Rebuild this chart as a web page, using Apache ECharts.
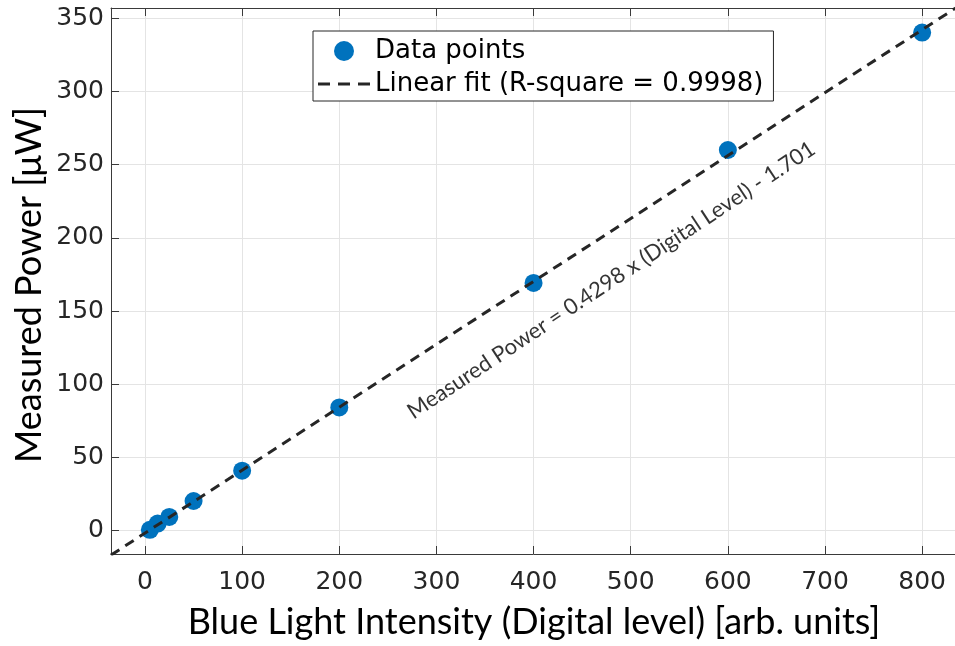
<!DOCTYPE html>
<html>
<head>
<meta charset="utf-8">
<title>Measured Power vs Blue Light Intensity</title>
<script src="https://cdn.jsdelivr.net/npm/echarts@6/dist/echarts.min.js"></script>
<style>
  html, body { margin: 0; padding: 0; background: #ffffff; }
  #chart { width: 955px; height: 646px; }
</style>
</head>
<body>
<div id="chart"></div>
<script>
// Measured samples: digital level of the blue channel and the optical power read at each level
const digitalLevels = [5, 13, 25, 50, 100, 200, 400, 600, 800];
const measuredPower = [0.5, 4.8, 9.3, 20.2, 40.9, 84.1, 169.2, 260.0, 340.2];

// Linear fit coefficients and goodness of fit
const fitSlope = 0.4298;
const fitIntercept = -1.701;
const fitRSquare = 0.9998;

// Axis ranges and tick values
const xRange = [-35, 840];
const yRange = [-16, 357];
const xTicks = [0, 100, 200, 300, 400, 500, 600, 700, 800];
const yTicks = [0, 50, 100, 150, 200, 250, 300, 350];

const points = digitalLevels.map((x, i) => [x, measuredPower[i]]);
const fitLine = xRange.map(x => [x, fitSlope * x + fitIntercept]);
const fitName = 'Linear fit (R-square = ' + fitRSquare.toFixed(4) + ')';
const equationText = 'Measured Power = ' + fitSlope + ' x (Digital Level) - ' + Math.abs(fitIntercept);

const tickFont = 'DejaVu Sans';
const titleFont = 'Lato';
const axisColor = '#3a3a3a';
const gridColor = '#e4e4e4';
const fitColor = '#262626';

// three short dashes used as the legend key of the fitted line
const dashIcon = 'path://M0,0h12v3h-12z M20,0h12v3h-12z M40,0h12v3h-12z';

const chart = echarts.init(document.getElementById('chart'), null, { renderer: 'canvas' });

function baseAxis(ticks) {
  return {
    type: 'value',
    axisLine: { show: true, onZero: false, lineStyle: { color: axisColor, width: 1 } },
    axisTick: { show: true, inside: true, length: 8, customValues: ticks, lineStyle: { color: axisColor } },
    splitLine: { show: true, lineStyle: { color: gridColor, width: 1 } }
  };
}

const option = {
  backgroundColor: '#ffffff',
  animation: false,
  // the plot box runs past the right edge of the canvas
  grid: { left: 111, top: 8, width: 850, height: 546, containLabel: false, outerBoundsMode: 'none' },
  legend: {
    left: 313,
    top: 31,
    orient: 'vertical',
    backgroundColor: '#ffffff',
    borderColor: '#262626',
    borderWidth: 1,
    padding: [7, 10, 4, 5],
    itemWidth: 52,
    itemHeight: 20,
    itemGap: 7,
    textStyle: { fontFamily: tickFont, fontSize: 26, color: '#000000' },
    data: [
      { name: 'Data points', icon: 'circle' },
      { name: fitName, icon: dashIcon, itemStyle: { color: fitColor } }
    ]
  },
  xAxis: [
    Object.assign(baseAxis(xTicks), {
      min: xRange[0],
      max: xRange[1],
      axisLabel: {
        show: true, margin: 16, customValues: xTicks,
        fontFamily: tickFont, fontSize: 25, color: '#262626'
      }
    }),
    Object.assign(baseAxis(xTicks), {
      position: 'top',
      min: xRange[0],
      max: xRange[1],
      axisLabel: { show: false },
      splitLine: { show: false }
    })
  ],
  yAxis: Object.assign(baseAxis(yTicks), {
    min: yRange[0],
    max: yRange[1],
    axisLabel: {
      show: true, margin: 7, customValues: yTicks,
      fontFamily: tickFont, fontSize: 25, color: '#262626'
    }
  }),
  graphic: [
    {
      type: 'text',
      x: 534,
      y: 622,
      style: {
        text: 'Blue Light Intensity (Digital level) [arb. units]',
        fontFamily: titleFont, fontSize: 36, fill: '#000000',
        align: 'center', verticalAlign: 'middle'
      },
      z: 10
    },
    {
      type: 'text',
      x: 29,
      y: 285,
      rotation: Math.PI / 2,
      style: {
        text: 'Measured Power [\u03bcW]',
        fontFamily: titleFont, fontSize: 36, fill: '#000000',
        align: 'center', verticalAlign: 'middle'
      },
      z: 10
    }
  ],
  series: [
    {
      name: 'Data points',
      type: 'scatter',
      data: points,
      symbol: 'circle',
      symbolSize: 18,
      itemStyle: { color: '#0072BD', opacity: 1 },
      z: 3
    },
    {
      name: fitName,
      type: 'line',
      data: fitLine,
      symbol: 'none',
      clip: true,
      itemStyle: { color: fitColor },
      lineStyle: { color: fitColor, width: 3, type: [10, 7] },
      z: 4
    },
    {
      name: 'equation',
      type: 'scatter',
      data: [[480, 171]],
      symbolSize: 0,
      silent: true,
      label: {
        show: true,
        position: 'inside',
        rotate: 33.5,
        formatter: equationText,
        fontFamily: titleFont,
        fontSize: 22,
        color: '#000000'
      },
      z: 5
    }
  ]
};

chart.setOption(option);
</script>
</body>
</html>
